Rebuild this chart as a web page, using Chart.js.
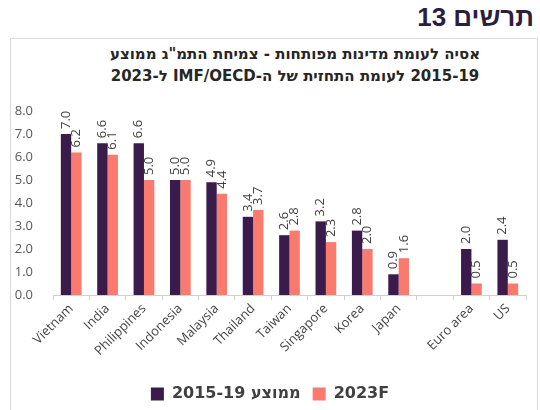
<!DOCTYPE html>
<html lang="he">
<head>
<meta charset="utf-8">
<script src="https://cdn.jsdelivr.net/npm/chart.js@4.4.0/dist/chart.umd.min.js"></script>
<style>
  body { margin: 0; width: 540px; height: 410px; overflow: hidden; background: #fff; position: relative; }
  #head { position: absolute; right: 6px; top: 2px; direction: rtl; font: bold 26px "Liberation Sans", sans-serif; color: #2b1f3f; }
  #box { position: absolute; left: 10px; top: 38px; width: 528px; height: 400px; border: 1px solid #d9d9d9; box-sizing: border-box; }
  #title { position: absolute; left: 90px; width: 410px; top: 43px; direction: rtl; text-align: center; font: bold 15px "DejaVu Sans", sans-serif; color: #262626; line-height: 22px; }
  #wrap { position: absolute; left: 0; top: 14px; width: 540px; height: 410px; }
</style>
</head>
<body>
<div id="head">תרשים 13</div>
<div id="box"></div>
<div id="title">אסיה לעומת מדינות מפותחות - צמיחת התמ"ג ממוצע<br>2015-19 לעומת התחזית של ה-IMF/OECD ל-2023</div>
<div id="wrap"><canvas id="chart" width="540" height="410"></canvas></div>
<script>
// data
const categories = ['Vietnam', 'India', 'Philippines', 'Indonesia', 'Malaysia', 'Thailand', 'Taiwan', 'Singapore', 'Korea', 'Japan', '', 'Euro area', 'US'];
const avg2015_19 = [7.0, 6.6, 6.6, 5.0, 4.9, 3.4, 2.6, 3.2, 2.8, 0.9, null, 2.0, 2.4];
const forecast2023 = [6.2, 6.1, 5.0, 5.0, 4.4, 3.7, 2.8, 2.3, 2.0, 1.6, null, 0.5, 0.5];
const seriesNames = ['2015-19 ממוצע', '2023F'];
const yMin = 0, yMax = 8, yStep = 1;

// value labels, rotated, above each bar
const valueLabels = {
  id: 'valueLabels',
  afterDatasetsDraw(chart) {
    const ctx = chart.ctx;
    ctx.save();
    ctx.font = '13px "Open Sans"';
    ctx.fillStyle = '#404040';
    ctx.textAlign = 'left';
    ctx.textBaseline = 'middle';
    chart.data.datasets.forEach((ds, i) => {
      chart.getDatasetMeta(i).data.forEach((bar, j) => {
        const v = ds.data[j];
        if (v == null) return;
        ctx.save();
        ctx.translate(bar.x, bar.y - 5);
        ctx.rotate(-Math.PI / 2);
        ctx.fillText(v.toFixed(1), 0, 0);
        ctx.restore();
      });
    });
    ctx.restore();
  }
};

const ctx = document.getElementById('chart').getContext('2d');

new Chart(ctx, {
  type: 'bar',
  data: {
    labels: categories,
    datasets: [{
      label: seriesNames[0],
      data: avg2015_19,
      backgroundColor: '#3b1a4c'
    }, {
      label: seriesNames[1],
      data: forecast2023,
      backgroundColor: '#fa7b6d'
    }]
  },
  options: {
    responsive: false,
    animation: false,
    layout: { padding: { left: 14, right: 14, top: 97, bottom: 12 } },
    categoryPercentage: 0.57,
    barPercentage: 1.0,
    plugins: {
      legend: {
        position: 'bottom',
        labels: {
          boxWidth: 13,
          boxHeight: 13,
          padding: 12,
          color: '#404040',
          font: { family: 'DejaVu Sans', size: 16, weight: 'bold' }
        }
      },
      tooltip: { enabled: false }
    },
    scales: {
      x: {
        grid: { offset: true, drawOnChartArea: false, drawTicks: true, tickLength: 5, color: '#d0d0d0' },
        border: { display: true, color: '#d0d0d0' },
        ticks: {
          autoSkip: false, minRotation: 45, maxRotation: 45, padding: 1,
          color: '#454545', font: { family: 'Open Sans', size: 13 }
        },
        afterFit(scale) { scale.height = 79; }
      },
      y: {
        min: yMin,
        max: yMax,
        grid: { display: false },
        border: { display: false },
        ticks: {
          stepSize: yStep, padding: 12,
          color: '#595959', font: { family: 'Open Sans', size: 13 },
          callback: v => v.toFixed(1)
        },
        afterFit(scale) { scale.width = 39; }
      }
    }
  },
  plugins: [valueLabels]
});
</script>
</body>
</html>
